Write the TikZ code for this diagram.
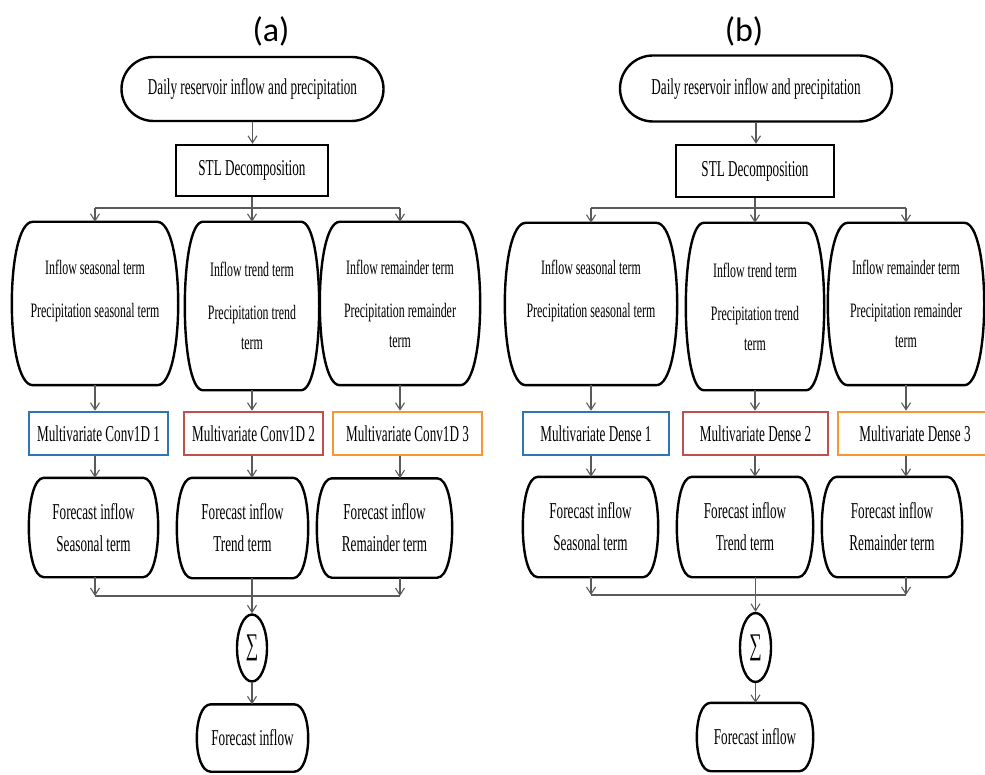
\documentclass[tikz,border=0pt]{standalone}
\usepackage{fontspec}
\setmainfont{Liberation Serif}[FakeStretch=0.58]
\newfontfamily\titlefont{Carlito}
\usetikzlibrary{arrows.meta,shapes.misc,shapes.geometric}
\definecolor{boxblue}{RGB}{46,117,182}
\definecolor{boxred}{RGB}{192,80,77}
\definecolor{boxorange}{RGB}{250,150,50}
\definecolor{linegray}{RGB}{90,90,90}
\tikzset{
  txt/.style={inner sep=0pt, align=center, font=\fontsize{22.7}{32}\selectfont},
  smalltxt/.style={txt, font=\fontsize{20.5}{30}\selectfont},
  termbox/.style={txt, rounded rectangle, draw, line width=2.4pt},
  rectbox/.style={txt, rectangle, draw, line width=2.4pt},
  modelbox/.style={txt, rectangle, draw=#1, line width=2.6pt, minimum height=43pt},
  sumnode/.style={ellipse, draw, line width=2.4pt, inner sep=0pt, font=\fontsize{30}{30}\selectfont},
  sideline/.style={line width=2.4pt, line join=round},
  ln/.style={linegray, line width=1.1pt},
  arr/.style={ln, -{Straight Barb[length=7pt,width=9pt]}},
}
\begin{document}
\begin{tikzpicture}[x=1pt, y=-1pt]
\useasboundingbox (0,0) rectangle (985,775);
\clip (0,0) rectangle (985,775);
% panel (a)
\node[font=\titlefont\fontsize{34}{34}\selectfont] (titleA) at (271,31) {(a)};
\node[termbox, minimum width=262pt, minimum height=64pt] (topA) at (252.5,89) {Daily reservoir inflow and precipitation};
\node[rectbox, minimum width=152pt, minimum height=51pt] (stlA) at (252,170.5) {STL Decomposition};
\node[smalltxt, minimum width=166pt, minimum height=163pt] (sA1) at (95,303.5) {Inflow seasonal term\\[13pt]Precipitation seasonal term\\ \phantom{term}};
\node[smalltxt, minimum width=134pt, minimum height=168pt] (sA2) at (252,306) {Inflow trend term\\[13pt]Precipitation trend\\term};
\node[smalltxt, minimum width=160pt, minimum height=163pt] (sA3) at (400,303.5) {Inflow remainder term\\[13pt]Precipitation remainder\\term};
\node[modelbox=boxblue, minimum width=139pt] (mA1) at (98.5,433.5) {Multivariate Conv1D 1};
\node[modelbox=boxred, minimum width=139pt] (mA2) at (253.5,433.5) {Multivariate Conv1D 2};
\node[modelbox=boxorange, minimum width=149pt] (mA3) at (407.5,433.5) {Multivariate Conv1D 3};
\node[txt, minimum width=129pt, minimum height=99pt] (fA1) at (93.5,527.5) {Forecast inflow\\Seasonal term};
\node[txt, minimum width=131pt, minimum height=100pt] (fA2) at (242.5,528) {Forecast inflow\\Trend term};
\node[txt, minimum width=135pt, minimum height=99pt] (fA3) at (384.5,528) {Forecast inflow\\Remainder term};
\node[sumnode, minimum width=30pt, minimum height=67pt] (sumA) at (252,648) {∑};
\node[txt, minimum width=111pt, minimum height=67pt] (outA) at (252.5,738) {Forecast inflow};
\coordinate (splitA) at (252,208);
\coordinate (mergeA) at (252,596);
% panel (b)
\node[font=\titlefont\fontsize{34}{34}\selectfont] (titleB) at (744,31) {(b)};
\node[termbox, minimum width=272pt, minimum height=66pt] (topB) at (756,88.5) {Daily reservoir inflow and precipitation};
\node[rectbox, minimum width=158pt, minimum height=52pt] (stlB) at (755,171) {STL Decomposition};
\node[smalltxt, minimum width=172pt, minimum height=162pt] (sB1) at (591,304) {Inflow seasonal term\\[13pt]Precipitation seasonal term\\ \phantom{term}};
\node[smalltxt, minimum width=138pt, minimum height=167pt] (sB2) at (755,306.5) {Inflow trend term\\[13pt]Precipitation trend\\term};
\node[smalltxt, minimum width=156pt, minimum height=162pt] (sB3) at (906,304) {Inflow remainder term\\[13pt]Precipitation remainder\\term};
\node[modelbox=boxblue, minimum width=146pt] (mB1) at (596,433.5) {Multivariate Dense 1};
\node[modelbox=boxred, minimum width=145pt] (mB2) at (755.5,433.5) {Multivariate Dense 2};
\node[modelbox=boxorange, minimum width=154pt] (mB3) at (915,433.5) {Multivariate Dense 3};
\node[txt, minimum width=135pt, minimum height=100pt] (fB1) at (590.5,527) {Forecast inflow\\Seasonal term};
\node[txt, minimum width=136pt, minimum height=100pt] (fB2) at (745,527) {Forecast inflow\\Trend term};
\node[txt, minimum width=140pt, minimum height=100pt] (fB3) at (892,527) {Forecast inflow\\Remainder term};
\node[sumnode, minimum width=31pt, minimum height=69pt] (sumB) at (755.5,647.5) {∑};
\node[txt, minimum width=116pt, minimum height=68pt] (outB) at (755,737) {Forecast inflow};
\coordinate (splitB) at (755,208);
\coordinate (mergeB) at (755,595);
% boxes with bulging sides
\foreach \n/\d in {sA1/21,sA2/18,sA3/20,fA1/15,fA2/15,fA3/15,outA/14,sB1/21,sB2/18,sB3/20,fB1/15,fB2/15,fB3/15,outB/14}
  \draw[sideline] ([xshift=\d]\n.north west) -- ([xshift=-\d]\n.north east)
    .. controls ([xshift=\d/3]\n.north east) and ([xshift=\d/3]\n.south east) .. ([xshift=-\d]\n.south east)
    -- ([xshift=\d]\n.south west)
    .. controls ([xshift=-\d/3]\n.south west) and ([xshift=-\d/3]\n.north west) .. cycle;
% connectors
\foreach \p in {A,B} {
  \draw[arr] (top\p.south) -- (top\p.south |- stl\p.north);
  \draw[ln] (stl\p.south) -- (split\p);
  \draw[ln] (s\p1.north |- split\p) -- (s\p3.north |- split\p);
  \draw[ln] (s\p1.south |- merge\p) -- (s\p3.south |- merge\p);
  \foreach \i in {1,2,3} {
    \draw[arr] (s\p\i.north |- split\p) -- (s\p\i.north);
    \draw[arr] (s\p\i.south) -- (s\p\i.south |- m\p\i.north);
    \draw[arr] (s\p\i.south |- m\p\i.south) -- (s\p\i.south |- f\p\i.north);
  }
  \draw[arr] (s\p1.south |- f\p1.south) -- (s\p1.south |- merge\p);
  \draw[arr] (s\p3.south |- f\p3.south) -- (s\p3.south |- merge\p);
  \draw[arr] (sum\p.north |- f\p2.south) -- (sum\p.north);
  \draw[arr] (sum\p.south) -- (sum\p.south |- out\p.north);
}
\end{tikzpicture}
\end{document}
